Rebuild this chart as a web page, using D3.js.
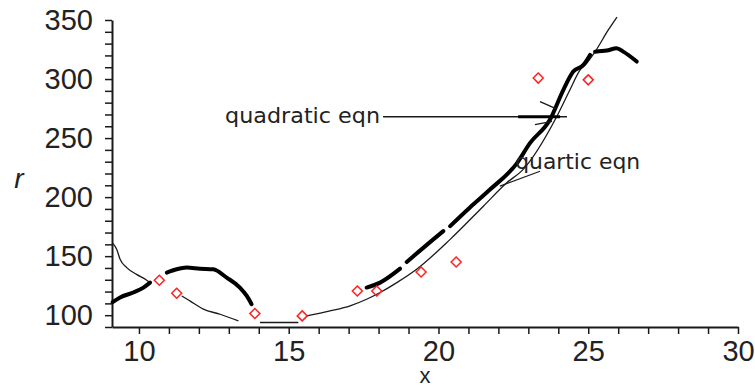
<!DOCTYPE html>
<html>
<head>
<meta charset="utf-8">
<script src="https://cdn.jsdelivr.net/npm/d3@7"></script>
<style>
  html, body { margin: 0; padding: 0; background: #fff; }
  svg { display: block; }
</style>
</head>
<body>
<div id="chart"></div>
<script>
// tick labels
const xMajorTicks = [10, 15, 20, 25, 30];
const yMajorTicks = [100, 150, 200, 250, 300, 350];
const xMinorTicks = [10, 11, 12, 13, 14, 15, 16, 17, 18, 19, 20, 21, 22, 23, 24, 25, 26, 27, 28, 29, 30];
const yMinorTicks = [90, 100, 110, 120, 130, 140, 150, 160, 170, 180, 190, 200, 210, 220, 230,
  240, 250, 260, 270, 280, 290, 300, 310, 320, 330, 340, 350];

// measured points (red diamonds)
const pointX = [10.68, 11.26, 13.87, 15.45, 17.29, 17.94, 19.42, 20.59, 23.33, 25.0];
const pointR = [129.6, 118.6, 101.4, 99.4, 120.5, 120.5, 136.6, 145.0, 300.8, 299.3];

// quadratic fit, drawn heavy, in broken pieces
const quadraticPieces = [
  [[9.12, 111.0], [9.37, 115.0], [9.81, 119.2], [10.15, 123.4], [10.37, 127.6]],
  [[10.93, 136.1], [11.26, 138.9], [11.59, 140.3], [12.04, 139.4], [12.48, 138.9], [12.93, 131.8],
   [13.37, 123.4], [13.60, 116.3], [13.76, 109.3]],
  [[17.60, 123.4], [18.05, 127.6], [18.72, 139.4]],
  [[18.94, 145.0], [19.55, 158.3], [20.16, 171.2]],
  [[20.39, 175.4], [21.05, 191.2], [21.72, 206.4], [22.61, 228.4], [23.06, 245.9], [23.72, 265.5],
   [24.17, 290.9], [24.50, 306.3], [24.84, 312.0], [25.06, 320.4]],
  [[25.23, 323.2], [25.62, 324.1], [25.95, 326.1], [26.17, 323.2], [26.62, 314.8]]
];

// quartic fit, drawn thin
const quarticPieces = [
  [[9.12, 161.0], [9.26, 155.7], [9.37, 147.3], [9.59, 140.3], [9.92, 134.6], [10.26, 129.6], [10.37, 127.6]],
  [[11.43, 116.3], [11.70, 112.1], [12.15, 105.1], [12.71, 100.8], [13.32, 95.2]],
  [[14.04, 93.8], [15.32, 93.8]],
  [[15.60, 99.4], [16.38, 103.6], [17.05, 107.9], [17.60, 113.5], [18.05, 119.2], [18.61, 127.6],
   [19.27, 138.9], [20.39, 164.2], [21.50, 192.3], [22.28, 212.1], [22.82, 223.3], [23.95, 268.3],
   [24.39, 290.9], [24.73, 307.8], [24.95, 313.4], [25.23, 323.2], [25.67, 341.6], [25.96, 352.5]]
];

// annotations (data units)
const quadLabel = { text: 'quadratic eqn', end: [18.05, 268] };
const quadArrow = [[18.15, 268], [24.29, 268]];
const quadArrowHeavy = [[22.66, 268], [24.06, 268]];
const quadBarbs = [
  [[23.39, 280.8], [23.92, 274.9]],
  [[23.22, 261.4], [23.79, 264.1]]
];
const quartLabel = { text: 'quartic eqn', start: [22.56, 224.2] };
const quartLeader = [[23.39, 221.9], [22.05, 209.3]];

const width = 755, height = 387;
const margin = { top: 20, right: 17, bottom: 60, left: 112 };
const innerWidth = width - margin.left - margin.right;
const innerHeight = height - margin.top - margin.bottom;

const svg = d3.select('#chart').append('svg')
  .attr('width', width)
  .attr('height', height)
  .attr('viewBox', `0 0 ${width} ${height}`);

const g = svg.append('g').attr('transform', `translate(${margin.left},${margin.top})`);

const x = d3.scaleLinear().domain([9.1, 30]).range([0, innerWidth]);
const y = d3.scaleLinear().domain([90, 350]).range([innerHeight, 0]);

const ink = '#1a1a1a';

// axes
const xAxis = g.append('g')
  .attr('transform', `translate(0,${innerHeight})`)
  .call(d3.axisBottom(x)
    .tickValues(xMinorTicks)
    .tickSize(7)
    .tickSizeOuter(0)
    .tickPadding(6)
    .tickFormat(d => xMajorTicks.includes(d) ? d : ''));

const yAxis = g.append('g')
  .call(d3.axisLeft(y)
    .tickValues(yMinorTicks)
    .tickSize(7)
    .tickSizeOuter(0)
    .tickPadding(12)
    .tickFormat(d => yMajorTicks.includes(d) ? d : ''));

[xAxis, yAxis].forEach(a => {
  a.select('.domain').attr('stroke', ink).attr('stroke-width', 2);
  a.selectAll('.tick line').attr('stroke', ink).attr('stroke-width', 1.5);
  a.selectAll('.tick text').filter(function () { return this.textContent === ''; }).remove();
  a.selectAll('.tick text')
    .attr('fill', '#222')
    .style('font-family', '"Liberation Sans", Arial, sans-serif')
    .style('font-size', '29px');
});

// axis titles
g.append('text')
  .attr('x', innerWidth / 2)
  .attr('y', innerHeight + 56)
  .attr('text-anchor', 'middle')
  .attr('fill', '#222')
  .style('font-family', '"Liberation Sans", Arial, sans-serif')
  .style('font-size', '22px')
  .text('x');

g.append('text')
  .attr('x', 19 - margin.left)
  .attr('y', 168)
  .attr('text-anchor', 'middle')
  .attr('fill', '#222')
  .style('font-family', '"Liberation Sans", Arial, sans-serif')
  .style('font-style', 'italic')
  .style('font-size', '28px')
  .text('r');

const line = d3.line()
  .x(d => x(d[0]))
  .y(d => y(d[1]))
  .curve(d3.curveMonotoneX);

// quartic (thin)
g.selectAll('.quartic')
  .data(quarticPieces)
  .enter()
  .append('path')
  .attr('class', 'quartic')
  .attr('d', line)
  .attr('fill', 'none')
  .attr('stroke', ink)
  .attr('stroke-width', 1.3);

// quadratic (heavy)
g.selectAll('.quadratic')
  .data(quadraticPieces)
  .enter()
  .append('path')
  .attr('class', 'quadratic')
  .attr('d', line)
  .attr('fill', 'none')
  .attr('stroke', '#000')
  .attr('stroke-width', 4)
  .attr('stroke-linecap', 'round')
  .attr('stroke-linejoin', 'round');

// data points
const points = pointX.map((px, i) => ({ x: px, r: pointR[i] }));
g.selectAll('.pt')
  .data(points)
  .enter()
  .append('path')
  .attr('class', 'pt')
  .attr('transform', d => `translate(${x(d.x)},${y(d.r)})`)
  .attr('d', 'M0,-5L5,0L0,5L-5,0Z')
  .attr('fill', 'none')
  .attr('stroke', '#ff2020')
  .attr('stroke-width', 1.5);

// annotations
const seg = d3.line().x(d => x(d[0])).y(d => y(d[1]));

g.append('path').attr('d', seg(quadArrow))
  .attr('stroke', ink).attr('stroke-width', 1.6).attr('fill', 'none');
g.append('path').attr('d', seg(quadArrowHeavy))
  .attr('stroke', '#000').attr('stroke-width', 3).attr('fill', 'none');
g.selectAll('.barb')
  .data(quadBarbs)
  .enter()
  .append('path')
  .attr('class', 'barb')
  .attr('d', seg)
  .attr('stroke', ink).attr('stroke-width', 1.4).attr('fill', 'none');

g.append('text')
  .attr('x', x(quadLabel.end[0]))
  .attr('y', y(quadLabel.end[1]))
  .attr('dy', '0.28em')
  .attr('text-anchor', 'end')
  .attr('fill', '#222')
  .attr('textLength', 155)
  .attr('lengthAdjust', 'spacingAndGlyphs')
  .style('font-family', '"DejaVu Sans", Verdana, sans-serif')
  .style('font-size', '20.5px')
  .text(quadLabel.text);

g.append('path').attr('d', seg(quartLeader))
  .attr('stroke', ink).attr('stroke-width', 1.3).attr('fill', 'none');

g.append('text')
  .attr('x', x(quartLabel.start[0]))
  .attr('y', y(quartLabel.start[1]))
  .attr('text-anchor', 'start')
  .attr('fill', '#222')
  .attr('textLength', 125)
  .attr('lengthAdjust', 'spacingAndGlyphs')
  .style('font-family', '"DejaVu Sans", Verdana, sans-serif')
  .style('font-size', '20.5px')
  .text(quartLabel.text);
</script>
</body>
</html>
